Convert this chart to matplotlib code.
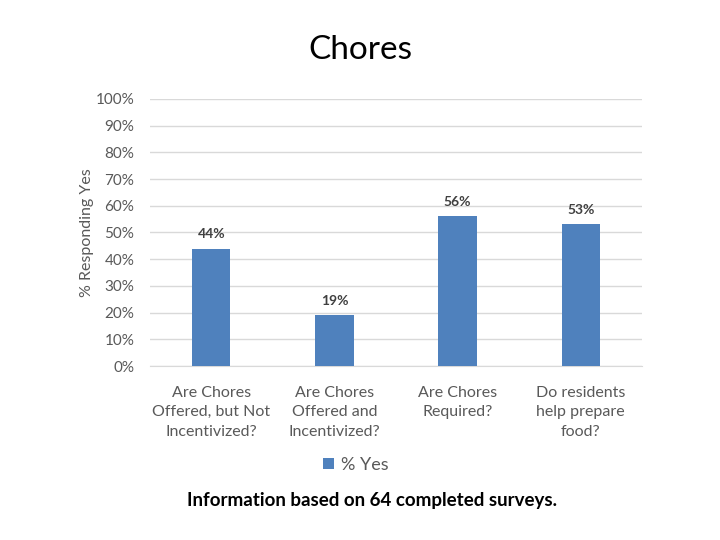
import matplotlib.pyplot as plt
import numpy as np

plt.rcParams["font.family"] = ["Lato", "DejaVu Sans"]

categories = [
    "Are Chores\nOffered, but Not\nIncentivized?",
    "Are Chores\nOffered and\nIncentivized?",
    "Are Chores\nRequired?",
    "Do residents\nhelp prepare\nfood?",
]
pct_yes = [44, 19, 56, 53]
series_name = "% Yes"
yticks = np.arange(0, 101, 10)

bar_color = "#4F81BD"
text_color = "#595959"

fig = plt.figure(figsize=(7.2, 5.4), dpi=100)
ax = fig.add_axes([0.208, 0.322, 0.684, 0.495])

x = np.arange(len(categories))
bars = ax.bar(x, pct_yes, width=0.31, color=bar_color, label=series_name, zorder=3)

for rect, v in zip(bars, pct_yes):
    ax.annotate(f"{v}%", (rect.get_x() + rect.get_width() / 2, v),
                xytext=(0, 6), textcoords="offset points",
                ha="center", va="bottom", fontsize=10, fontweight="bold",
                color="#404040")

ax.set_xlim(-0.5, len(categories) - 0.5)
ax.set_ylim(0, 100)
ax.set_yticks(yticks)
ax.set_yticklabels([f"{t}%" for t in yticks], fontsize=11, color=text_color)
ax.set_xticks(x)
ax.set_xticklabels(categories, fontsize=11.5, color=text_color, linespacing=1.5)
ax.tick_params(axis="x", length=0, pad=14)
ax.tick_params(axis="y", length=0, pad=11)

ax.grid(axis="y", color="#D9D9D9", linewidth=1, zorder=0)
for side in ["top", "right", "left"]:
    ax.spines[side].set_visible(False)
ax.spines["bottom"].set_color("#D9D9D9")

ax.set_ylabel("% Responding Yes", fontsize=11.5, color=text_color, labelpad=1)
fig.suptitle("Chores", y=0.935, fontsize=24, color="black")

fig.legend(handles=[bars], labels=[series_name], loc="center",
           bbox_to_anchor=(0.494, 0.139), frameon=False, fontsize=13,
           handlelength=0.6, handleheight=0.6, handletextpad=0.4,
           labelcolor=text_color)

fig.text(0.516, 0.073, "Information based on 64 completed surveys.",
         ha="center", va="center", fontsize=13.5, fontweight="bold", color="black")

fig.savefig("out.png", dpi=100)
